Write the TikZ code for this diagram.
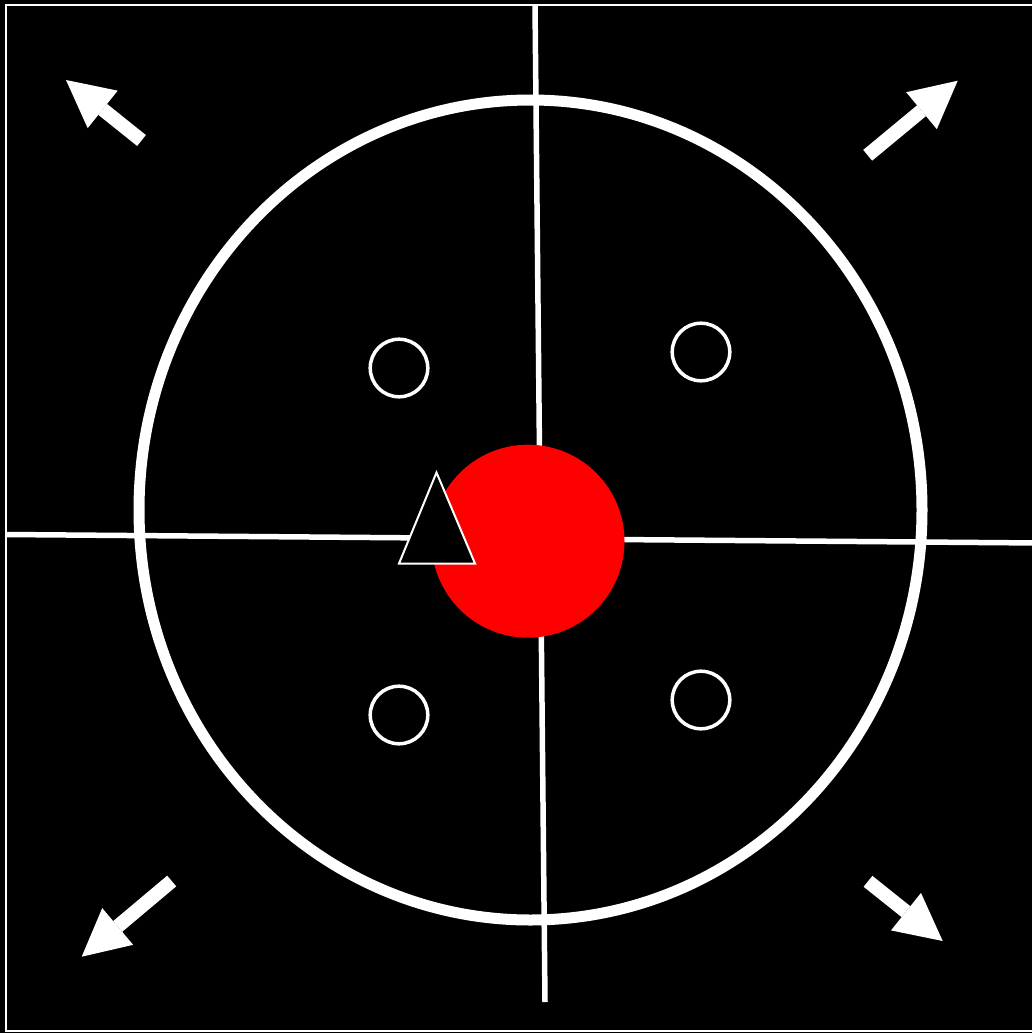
\documentclass[tikz,border=0pt]{standalone}
\usepackage{xcolor}
\usepackage{tikz}
\usetikzlibrary{arrows.meta}
\definecolor{targetred}{RGB}{255, 0, 0}
\definecolor{fieldblack}{RGB}{0, 0, 0}

\begin{document}
\begin{tikzpicture}[x=1pt,y=-1pt,
    guide/.style={white,line width=5.5pt},
    marker/.style={white,line width=3.5pt},
    bigarrow/.style={white,line width=14pt,-{Triangle[width=48pt,length=47pt,line width=0pt]}}]
    \fill[fieldblack] (0,0) rectangle (1032,1033);
    \useasboundingbox (0,0) rectangle (1032,1033);
    \clip (0,0) rectangle (1032,1033);
    \draw[white,line width=2pt] (6,5) rectangle (1040,1031);

    % axes through the centre
    \draw[guide] (535,5) -- (545,1002);
    \draw[guide] (6,534.5) -- (1040,543);

    \draw[white,line width=11pt] (530.5,510) ellipse (391.5 and 410);
    \fill[targetred] (528,541.2) circle (96.5);
    \filldraw[fill=fieldblack,draw=white,line width=2pt] (436.5,472.5) -- (475,563.5) -- (399,563.5) -- cycle;

    % four small rings
    \draw[marker] (399,368) circle (28.8);
    \draw[marker] (701,352) circle (28.8);
    \draw[marker] (399,715) circle (28.8);
    \draw[marker] (701,700) circle (28.8);

    % corner arrows
    \draw[bigarrow] (141.5,140.5) -- (66,80);
    \draw[bigarrow] (867.7,155.3) -- (957.7,80.7);
    \draw[bigarrow] (171.7,881) -- (81.7,956.7);
    \draw[bigarrow] (868,881.3) -- (942.7,941);
\end{tikzpicture}
\end{document}
